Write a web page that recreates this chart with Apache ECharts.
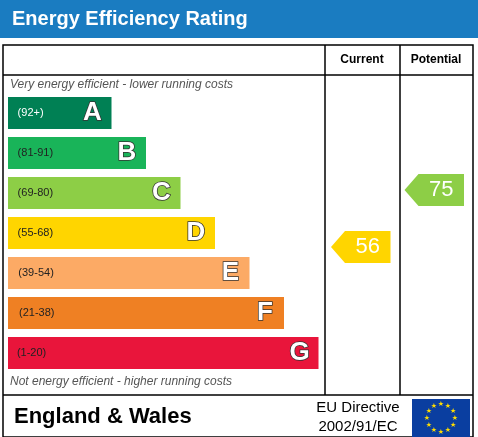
<!DOCTYPE html><html><head><meta charset="utf-8">
<script src="https://cdn.jsdelivr.net/npm/echarts@6/dist/echarts.min.js"></script>
<style>html,body{margin:0;padding:0;background:#fff}#c{width:478px;height:437px}</style></head>
<body><div id="c"></div><script>
const bandLetters=['A','B','C','D','E','F','G'];
const bandRanges=['(92+)','(81-91)','(69-80)','(55-68)','(39-54)','(21-38)','(1-20)'];
const bandLength=[3,4,5,6,7,8,9];
const bandColors=['#008054','#19b459','#8dce46','#ffd500','#fcaa65','#ef8023','#e9153b'];
const columns=['Current','Potential'];
const currentRating=56, potentialRating=75;
const currentColor='#ffd500', potentialColor='#8dce46';

const chart=echarts.init(document.getElementById('c'));
function arrow(params,api){
  const col=api.value(0), s=api.value(1);
  const c=api.coord([col,s]);
  const bw=api.size([1,0])[0];
  const h=32, w=bw-14, tip=14;
  const x0=c[0]-bw/2+6, x1=x0+w;
  const pts=[[x0,c[1]],[x0+tip,c[1]-h/2],[x1,c[1]-h/2],[x1,c[1]+h/2],[x0+tip,c[1]+h/2]];
  return {type:'group',children:[
    {type:'polygon',shape:{points:pts},style:{fill:api.value(2)}},
    {type:'text',style:{text:String(s),x:(x0+tip+x1)/2,y:c[1],align:'center',verticalAlign:'middle',fill:'#fff',font:'22px Arial, "Liberation Sans"'}}]};
}
// stars
const stars=[];for(let i=0;i<12;i++){const a=i*Math.PI/6;stars.push({type:'text',style:{text:'★',x:441+14*Math.cos(a),y:418+14*Math.sin(a),align:'center',verticalAlign:'middle',fill:'#ffdd00',font:'7px DejaVu Sans'}});}
chart.setOption({
  animation:false,
  grid:[{left:8,top:93,width:310.5,height:280},{left:325,top:115,width:147,height:240}],
  xAxis:[{gridIndex:0,type:'value',min:0,max:9,show:false},
         {gridIndex:1,type:'category',data:columns,show:false}],
  yAxis:[{gridIndex:0,type:'category',data:bandLetters,inverse:true,show:false},
         {gridIndex:1,type:'value',min:20,max:100,show:false}],
  series:[
    {type:'bar',xAxisIndex:0,yAxisIndex:0,barWidth:32,
     data:bandLength.map((v,i)=>({value:v,itemStyle:{color:bandColors[i]},
       label:{show:true,position:'inside',formatter:()=>'{r|'+bandRanges[i]+'}{l|'+bandLetters[i]+'}',
         rich:{r:{fontSize:11,color:i==0?'#fff':'#222',fontFamily:'Arial',align:'left',width:v*34.5-38},
               l:{fontSize:26,fontWeight:'bold',color:'#fff',textBorderColor:'#333',textBorderWidth:1.5,fontFamily:'Arial',align:'right'}}}}))},
    {type:'custom',xAxisIndex:1,yAxisIndex:1,renderItem:arrow,
     data:[[0,currentRating,currentColor],[1,potentialRating,potentialColor]]}
  ],
  graphic:[
    {type:'rect',shape:{x:0,y:0,width:478,height:38},style:{fill:'#1a7cc1'}},
    {type:'text',style:{text:'Energy Efficiency Rating',x:12,y:19,verticalAlign:'middle',fill:'#fff',font:'bold 20px Arial, "Liberation Sans"'}},
    {type:'rect',shape:{x:3,y:45,width:470,height:392},style:{fill:'none',stroke:'#000',lineWidth:1.5}},
    {type:'line',shape:{x1:325,y1:45,x2:325,y2:395},style:{stroke:'#000',lineWidth:1.5}},
    {type:'line',shape:{x1:400,y1:45,x2:400,y2:395},style:{stroke:'#000',lineWidth:1.5}},
    {type:'line',shape:{x1:3,y1:75,x2:473,y2:75},style:{stroke:'#000',lineWidth:1.5}},
    {type:'line',shape:{x1:3,y1:395,x2:473,y2:395},style:{stroke:'#000',lineWidth:1.5}},
    {type:'text',style:{text:'Current',x:362,y:60,align:'center',verticalAlign:'middle',fill:'#000',font:'bold 12px Arial'}},
    {type:'text',style:{text:'Potential',x:436,y:60,align:'center',verticalAlign:'middle',fill:'#000',font:'bold 12px Arial'}},
    {type:'text',style:{text:'Very energy efficient - lower running costs',x:10,y:85,verticalAlign:'middle',fill:'#555',font:'italic 12px Arial'}},
    {type:'text',style:{text:'Not energy efficient - higher running costs',x:10,y:382,verticalAlign:'middle',fill:'#555',font:'italic 12px Arial'}},
    {type:'text',style:{text:'England & Wales',x:14,y:417,verticalAlign:'middle',fill:'#000',font:'bold 22px Arial'}},
    {type:'text',style:{text:'EU Directive\n2002/91/EC',x:358,y:417,align:'center',verticalAlign:'middle',fill:'#000',font:'15px Arial',lineHeight:19}},
    {type:'rect',shape:{x:412,y:399,width:58,height:38},style:{fill:'#0a3ea0'}},
    ...stars
  ]
});
</script></body></html>
